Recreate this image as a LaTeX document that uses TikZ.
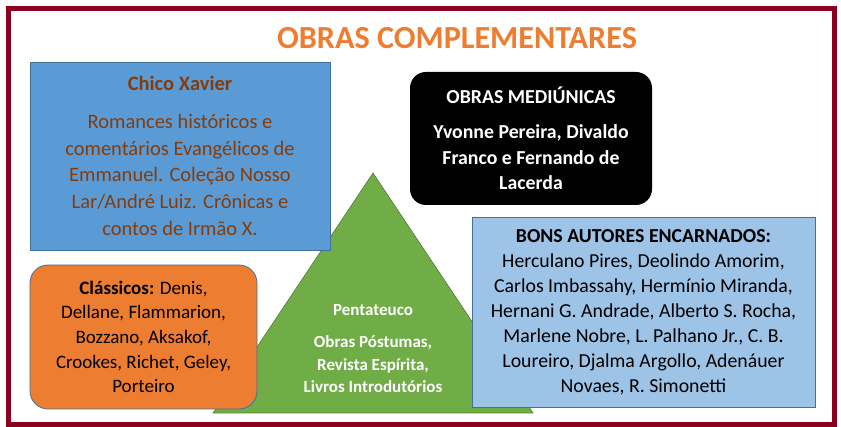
\documentclass[tikz,border=0pt]{standalone}
\usepackage{fontspec}
\setmainfont{Carlito}
\definecolor{framered}{RGB}{139,0,30}
\definecolor{titleorange}{RGB}{237,125,49}
\definecolor{boxblue}{RGB}{91,155,213}
\definecolor{lightblue}{RGB}{157,195,230}
\definecolor{edgeblue}{RGB}{65,113,156}
\definecolor{boxorange}{RGB}{237,125,49}
\definecolor{brown}{RGB}{132,60,12}
\definecolor{pyrgreen}{RGB}{112,173,71}
\definecolor{pyredge}{RGB}{80,126,50}
\begin{document}
\begin{tikzpicture}[x=1pt,y=-1pt,align=center,
  box/.style={draw=edgeblue,line width=0.8pt,inner sep=0pt},
  chicobox/.style={box,fill=boxblue,text=brown,minimum width=300pt,minimum height=188pt,font=\fontsize{20.5}{26.7}\selectfont},
  mediumbox/.style={fill=black,text=white,rounded corners=16pt,minimum width=242pt,minimum height=133pt,font=\bfseries\fontsize{19.8}{25.5}\selectfont},
  classicbox/.style={box,fill=boxorange,rounded corners=18pt,minimum width=227pt,minimum height=144pt,font=\fontsize{19}{24.6}\selectfont},
  authorbox/.style={box,fill=lightblue,minimum width=343pt,minimum height=190pt,font=\fontsize{19.8}{25}\selectfont}]
\useasboundingbox (0,0) rectangle (841,427);
\draw[framered,line width=5pt] (8.5,8.5) rectangle (834.5,424.5);
\node (title) at (457,38) [text=titleorange,font=\bfseries\fontsize{32.2}{36}\selectfont] {OBRAS COMPLEMENTARES};
\coordinate (apex) at (373,173);
\coordinate (baseleft) at (213,413);
\coordinate (baseright) at (533,413);
\draw[fill=pyrgreen,draw=pyredge,line width=0.6pt] (apex) -- (baseright) -- (baseleft) -- cycle;
\node (penta) at (373,349) [text=white,font=\bfseries\fontsize{17}{22.5}\selectfont] {Pentateuco\\[9.5pt] Obras Póstumas,\\ Revista Espírita,\\ Livros Introdutórios};
\node (chico) at (180,156) [chicobox] {\textbf{Chico Xavier}\\[11pt] Romances históricos e\\ comentários Evangélicos de\\ Emmanuel. Coleção Nosso\\ Lar/André Luiz. Crônicas e\\ contos de Irmão X.};
\node (medium) at (531,138.5) [mediumbox] {OBRAS MEDIÚNICAS\\[9.5pt] Yvonne Pereira, Divaldo\\ Franco e Fernando de\\ Lacerda};
\node (classic) at (143.5,337) [classicbox] {\textbf{Clássicos:} Denis,\\ Dellane, Flammarion,\\ Bozzano, Aksakof,\\ Crookes, Richet, Geley,\\ Porteiro};
\node (authors) at (643.5,312) [authorbox] {\textbf{BONS AUTORES ENCARNADOS:}\\ Herculano Pires, Deolindo Amorim,\\ Carlos Imbassahy, Hermínio Miranda,\\ Hernani G. Andrade, Alberto S. Rocha,\\ Marlene Nobre, L. Palhano Jr., C. B.\\ Loureiro, Djalma Argollo, Adenáuer\\ Novaes, R. Simonetti};
\end{tikzpicture}
\end{document}
